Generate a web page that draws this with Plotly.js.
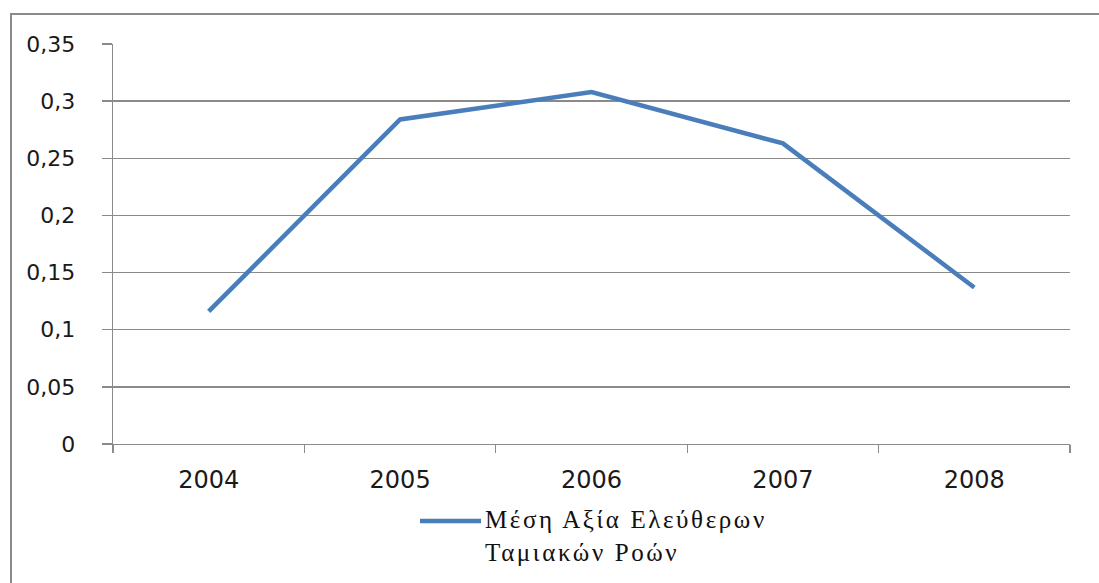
<!DOCTYPE html>
<html>
<head>
<meta charset="utf-8">
<script src="https://cdn.plot.ly/plotly-3.0.1.min.js"></script>
<style>
  html, body { margin: 0; padding: 0; background: #ffffff; }
  #wrap { position: relative; width: 1099px; height: 583px; overflow: hidden; }
  #frame { position: absolute; left: 10px; top: 13px; width: 1200px; height: 700px;
           border-top: 2px solid #8a8a8a; border-left: 2px solid #8a8a8a; }
  #chart { position: absolute; left: 0; top: 0; width: 1099px; height: 583px; }
  /* wide-set serif for the series key */
  #chart .annotation-text { letter-spacing: 2.6px; }
</style>
</head>
<body>
<div id="wrap">
  <div id="frame"></div>
  <div id="chart"></div>
</div>
<script>
// Years on the category axis
const years = ['2004', '2005', '2006', '2007', '2008'];
// Average value of free cash flows per year
const meanFcf = [0.116, 0.284, 0.308, 0.263, 0.137];
// Series name (two lines)
const seriesName = 'Μέση Αξία Ελεύθερων<br>Ταμιακών Ροών';
// Value-axis ticks and their comma-decimal labels
const yTicks = [0, 0.05, 0.1, 0.15, 0.2, 0.25, 0.3, 0.35];
const yTickLabels = ['0', '0,05', '0,1', '0,15', '0,2', '0,25', '0,3', '0,35'];

const lineColor = '#4a7ebb';
const gridColor = '#8a8a8a';
const tickFamily = 'DejaVu Sans, Verdana, sans-serif';

const trace = {
  type: 'scatter',
  mode: 'lines',
  x: years,
  y: meanFcf,
  name: seriesName,
  line: { color: lineColor, width: 4.5, shape: 'linear' },
  showlegend: false,
  hoverinfo: 'x+y'
};

// Plot-area edges in pixels; the key below is placed relative to them
const L = 113, R = 1070, T = 44, B = 444;
const px = v => (v - L) / (R - L);
const py = v => (B - v) / (B - T);

const layout = {
  width: 1099,
  height: 583,
  margin: { l: L, r: 1099 - R, t: T, b: 583 - B },
  paper_bgcolor: 'rgba(0,0,0,0)',
  plot_bgcolor: 'rgba(0,0,0,0)',
  separators: ',.',
  font: { family: tickFamily, color: '#1a1a1a' },
  xaxis: {
    type: 'category',
    range: [-0.5, years.length - 0.5],
    tickson: 'boundaries',
    ticks: 'outside',
    ticklen: 8,
    tickwidth: 1.3,
    tickcolor: gridColor,
    showline: true,
    linecolor: gridColor,
    linewidth: 1.3,
    showgrid: false,
    zeroline: false,
    tickfont: { size: 24, family: tickFamily, color: '#1a1a1a' },
    ticklabelstandoff: 14,
    fixedrange: true
  },
  yaxis: {
    range: [0, 0.35],
    tickmode: 'array',
    tickvals: yTicks,
    ticktext: yTickLabels,
    ticks: 'outside',
    ticklen: 10,
    tickwidth: 1.3,
    tickcolor: gridColor,
    showline: true,
    linecolor: gridColor,
    linewidth: 1.3,
    showgrid: true,
    gridcolor: gridColor,
    gridwidth: 1.3,
    zeroline: false,
    tickfont: { size: 22, family: tickFamily, color: '#1a1a1a' },
    ticklabelstandoff: 22,
    fixedrange: true
  },
  shapes: [
    {
      type: 'line', xref: 'paper', yref: 'paper',
      x0: px(420), x1: px(481), y0: py(521), y1: py(521),
      line: { color: lineColor, width: 4.5 }
    }
  ],
  annotations: [
    {
      xref: 'paper', yref: 'paper',
      x: px(483), y: py(504),
      xanchor: 'left', yanchor: 'top', align: 'left',
      showarrow: false,
      text: seriesName,
      font: { family: 'Liberation Serif, Times New Roman, serif', size: 25, color: '#111111' }
    }
  ]
};

Plotly.newPlot('chart', [trace], layout, { displayModeBar: false, staticPlot: true });
</script>
</body>
</html>
